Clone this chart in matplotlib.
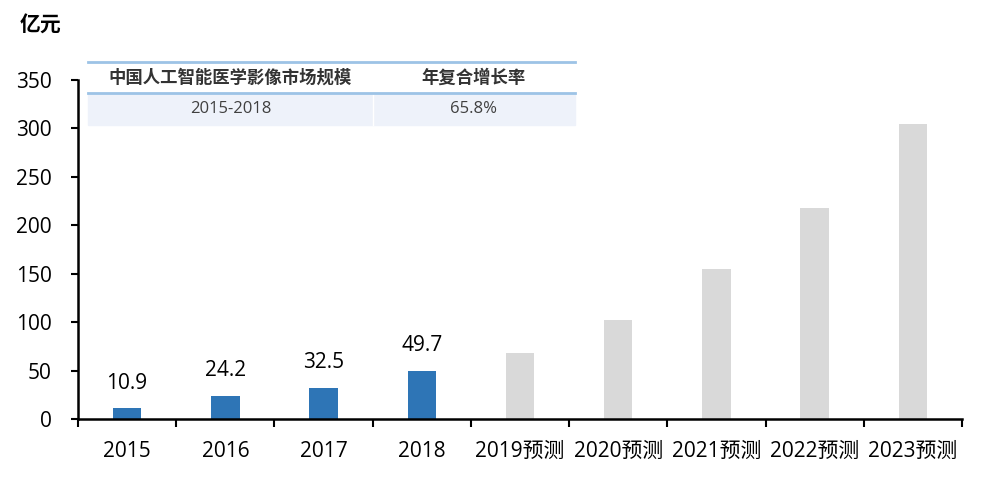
import matplotlib
matplotlib.use("Agg")
import matplotlib.pyplot as plt
from matplotlib.patches import Rectangle
from matplotlib.lines import Line2D

plt.rcParams['font.family'] = ['Open Sans', 'Noto Sans CJK SC', 'DejaVu Sans']

# data
years = ['2015', '2016', '2017', '2018',
         '2019预测', '2020预测', '2021预测', '2022预测', '2023预测']
actual = [10.9, 24.2, 32.5, 49.7]
forecast = [68, 102, 155, 218, 305]
table_header = ['中国人工智能医学影像市场规模', '年复合增长率']
table_row = ['2015-2018', '65.8%']

blue = '#2E75B6'
grey = '#D9D9D9'

W, H = 983, 483
fig = plt.figure(figsize=(W / 100, H / 100), dpi=100)
ax = fig.add_axes([78 / W, 1 - 419 / H, (962 - 78) / W, (419 - 80) / H])

x_act = list(range(len(actual)))
x_fc = list(range(len(actual), len(years)))
ax.bar(x_act, actual, width=0.29, color=blue, zorder=2)
ax.bar(x_fc, forecast, width=0.29, color=grey, zorder=2)
for xi, v in zip(x_act, actual):
    ax.text(xi, v + 15, f'{v:.1f}', ha='center', va='bottom', fontsize=15)

ax.set_xlim(-0.5, len(years) - 0.5)
ax.set_ylim(0, 350)
ax.set_yticks(range(0, 351, 50))
ax.set_xticks(range(len(years)))
ax.set_xticklabels(years)
ax.set_xticks([i - 0.5 for i in range(len(years) + 1)], minor=True)
ax.tick_params(axis='x', which='major', length=0, labelsize=15, pad=16)
ax.tick_params(axis='x', which='minor', length=6, width=1.5, direction='out')
ax.tick_params(axis='y', length=5, width=1.5, labelsize=15, pad=14)
for s in ['top', 'right']:
    ax.spines[s].set_visible(False)
for s in ['left', 'bottom']:
    ax.spines[s].set_linewidth(1.8)

fig.text(20 / W, 1 - 25 / H, '亿元', fontsize=15, fontweight='bold', va='center',
         family=['Noto Sans CJK SC', 'DejaVu Sans'])

# summary table at top-left
tx0, tx1, tdiv = 88 / W, 575 / W, 373 / W
y_top, y_mid, y_bot = 1 - 62 / H, 1 - 93 / H, 1 - 125 / H
fig.patches.append(Rectangle((tx0, y_bot), tx1 - tx0, y_mid - y_bot,
                             transform=fig.transFigure, color='#EEF2FA', zorder=3))
fig.lines.append(Line2D([tdiv, tdiv], [y_bot, y_mid], transform=fig.transFigure,
                        color='white', lw=1, zorder=4))
for yy in (y_top, y_mid):
    fig.lines.append(Line2D([tx0, tx1], [yy, yy], transform=fig.transFigure,
                            color='#9DC3E6', lw=2, zorder=4))
cols = [(tx0 + tdiv) / 2, (tdiv + tx1) / 2]
for cx, h, r in zip(cols, table_header, table_row):
    fig.text(cx, (y_top + y_mid) / 2, h, ha='center', va='center',
             fontsize=12.5, fontweight='bold', color='#333333', zorder=5,
             family=['Noto Sans CJK SC', 'DejaVu Sans'])
    fig.text(cx, (y_mid + y_bot) / 2, r, ha='center', va='center',
             fontsize=12, color='#404040', zorder=5)

fig.savefig('out.png', dpi=100)
